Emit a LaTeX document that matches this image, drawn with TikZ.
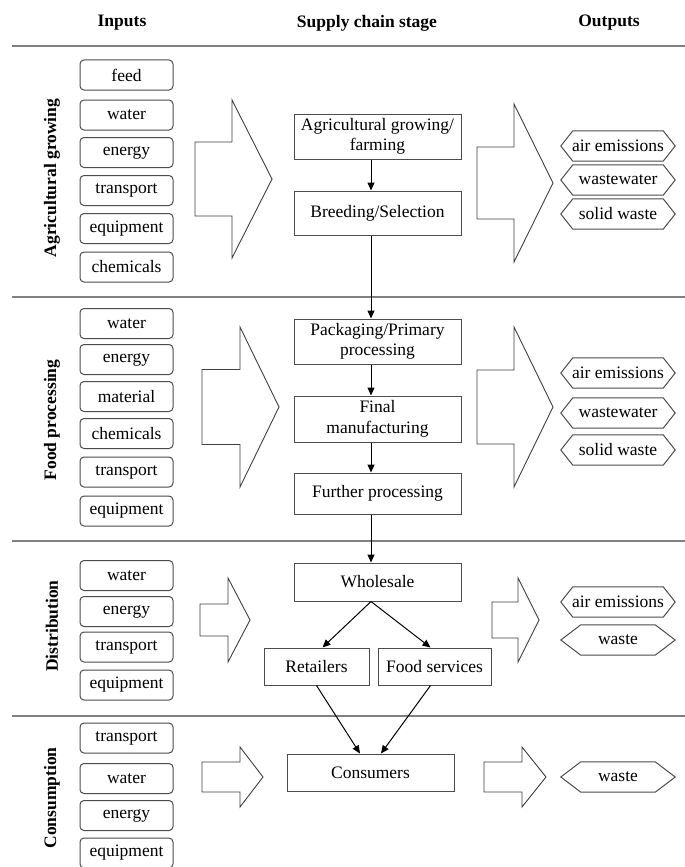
\documentclass[tikz,border=0pt]{standalone}
\usepackage{fontspec}
\setmainfont{Liberation Serif}
\usetikzlibrary{arrows.meta,calc}

% broad block arrow: x left, x head base, x tip, y centre, shaft half height, head half height
\newcommand\fatarrow[6]{%
  \draw[fatline] (#1,#4-#5) -- (#2,#4-#5) -- (#2,#4-#6) -- (#3,#4)
    -- (#2,#4+#6) -- (#2,#4+#5) -- (#1,#4+#5) -- cycle;}
% pointed frame round an output node: node name, inset of the points
\newcommand\hexframe[2]{%
  \draw[hexline] (#1.west) -- ([xshift=#2]#1.north west) -- ([xshift=-#2]#1.north east)
    -- (#1.east) -- ([xshift=-#2]#1.south east) -- ([xshift=#2]#1.south west) -- cycle;}

\begin{document}
\begin{tikzpicture}[x=1pt,y=-1pt,
  every node/.style={inner sep=0pt, align=center, font=\fontsize{17.5}{20.5}\selectfont},
  inbox/.style={draw=black!70, line width=1pt, rounded corners=4pt, minimum width=93pt, minimum height=30pt},
  stagebox/.style={draw=black!70, line width=1pt, minimum width=167pt},
  outhex/.style={minimum width=114pt, minimum height=30pt},
  hexline/.style={draw=black!70, line width=1pt},
  fatline/.style={draw=black!75, line width=0.9pt},
  bandline/.style={draw=black!50, line width=2pt},
  colhead/.style={font=\fontsize{17.5}{20}\selectfont\bfseries},
  sidelabel/.style={font=\fontsize{17.5}{20}\selectfont\bfseries, rotate=90},
  conn/.style={draw=black, line width=1pt, -{Triangle[length=8pt,width=7pt]}}
]
\useasboundingbox[fill=white] (0,0) rectangle (685,867);

% column headings
\node[colhead] (hin)  at (122,23) {Inputs};
\node[colhead] (hst)  at (367,23) {Supply chain stage};
\node[colhead] (hout) at (609,23) {Outputs};

% band separators
\coordinate (l0) at (12,46);   \coordinate (r0) at (685,46);
\coordinate (l1) at (12,297);  \coordinate (r1) at (685,297);
\coordinate (l2) at (12,541);  \coordinate (r2) at (685,541);
\coordinate (l3) at (12,716);  \coordinate (r3) at (685,716);
\draw[bandline] (l0) -- (r0);
\draw[bandline] (l1) -- (r1);
\draw[bandline] (l2) -- (r2);
\draw[bandline] (l3) -- (r3);

% side labels
\node[sidelabel] (s1) at (52,178) {Agricultural growing};
\node[sidelabel] (s2) at (52,420) {Food processing};
\node[sidelabel] (s3) at (52,626) {Distribution};
\node[sidelabel] (s4) at (52,798) {Consumption};

% inputs: agricultural growing
\node[inbox] (a1) at (126.5,75)    {feed};
\node[inbox] (a2) at (126.5,115)   {water};
\node[inbox] (a3) at (126.5,152.5) {energy};
\node[inbox] (a4) at (126.5,190.5) {transport};
\node[inbox] (a5) at (126.5,228.5) {equipment};
\node[inbox] (a6) at (126.5,267)   {chemicals};

% inputs: food processing
\node[inbox] (f1) at (126.5,323.5) {water};
\node[inbox] (f2) at (126.5,359.5) {energy};
\node[inbox] (f3) at (126.5,396.5) {material};
\node[inbox] (f4) at (126.5,433.5) {chemicals};
\node[inbox] (f5) at (126.5,472)   {transport};
\node[inbox] (f6) at (126.5,511)   {equipment};

% inputs: distribution
\node[inbox] (d1) at (126.5,575.5) {water};
\node[inbox] (d2) at (126.5,611.5) {energy};
\node[inbox] (d3) at (126.5,647)   {transport};
\node[inbox] (d4) at (126.5,685)   {equipment};

% inputs: consumption
\node[inbox] (c1) at (126.5,738)   {transport};
\node[inbox] (c2) at (126.5,778.5) {water};
\node[inbox] (c3) at (126.5,815.5) {energy};
\node[inbox] (c4) at (126.5,853)   {equipment};

% block arrows into and out of each stage
\fatarrow{195}{232}{272}{179}{37}{79}
\fatarrow{477}{514}{553}{183}{36}{79}
\fatarrow{202}{240}{279}{407}{37.5}{80}
\fatarrow{477}{514}{553}{407}{37}{80}
\fatarrow{200}{228}{250}{620}{16}{42}
\fatarrow{492}{518}{539}{620}{18}{42}
\fatarrow{202}{240}{263}{777}{15}{30}
\fatarrow{484}{522}{546}{777}{15}{30}

% supply chain stages
\node[stagebox, minimum height=45pt] (agri)    at (377.5,136.5) {Agricultural growing/\\farming};
\node[stagebox, minimum height=44pt] (breed)   at (377.5,213)   {Breeding/Selection};
\node[stagebox, minimum height=45pt] (pack)    at (377.5,341.5) {Packaging/Primary\\processing};
\node[stagebox, minimum height=46pt] (final)   at (377.5,419)   {Final\\manufacturing};
\node[stagebox, minimum height=41pt] (further) at (377.5,493.5) {Further processing};
\node[stagebox, minimum height=38pt] (whole)   at (377.5,582)   {Wholesale};
\node[stagebox, minimum width=105pt, minimum height=37pt] (retail) at (316.5,666.5) {Retailers};
\node[stagebox, minimum width=113pt, minimum height=37pt] (food)   at (434.5,666.5) {Food services};
\node[stagebox, minimum height=37pt] (cons)    at (370.5,772.5) {Consumers};

% flow between stages
\coordinate (spine) at (371,0);
\draw[conn] (agri.south -| spine)    -- (breed.north -| spine);
\draw[conn] (breed.south -| spine)   -- (pack.north -| spine);
\draw[conn] (pack.south -| spine)    -- (final.north -| spine);
\draw[conn] (final.south -| spine)   -- (further.north -| spine);
\draw[conn] (further.south -| spine) -- (whole.north -| spine);
\draw[conn] (whole.south -| spine)   -- ([xshift=6pt]retail.north);
\draw[conn] (whole.south -| spine)   -- ([xshift=-4pt]food.north);
\draw[conn] (retail.south)           -- ([xshift=-10.5pt]cons.north);
\draw[conn] ([xshift=-4pt]food.south) -- ([xshift=10.5pt]cons.north);

% outputs
\node[outhex] (o1) at (618,146) {air emissions};  \hexframe{o1}{12pt}
\node[outhex] (o2) at (618,180) {wastewater};     \hexframe{o2}{12pt}
\node[outhex] (o3) at (618,214) {solid waste};    \hexframe{o3}{12pt}
\node[outhex] (o4) at (618,373) {air emissions};  \hexframe{o4}{12pt}
\node[outhex] (o5) at (618,413) {wastewater};     \hexframe{o5}{12pt}
\node[outhex] (o6) at (618,450) {solid waste};    \hexframe{o6}{12pt}
\node[outhex] (o7) at (618,602) {air emissions};  \hexframe{o7}{12pt}
\node[outhex] (o8) at (618,640) {waste};          \hexframe{o8}{20pt}
\node[outhex] (o9) at (618,777) {waste};          \hexframe{o9}{20pt}
\end{tikzpicture}
\end{document}
